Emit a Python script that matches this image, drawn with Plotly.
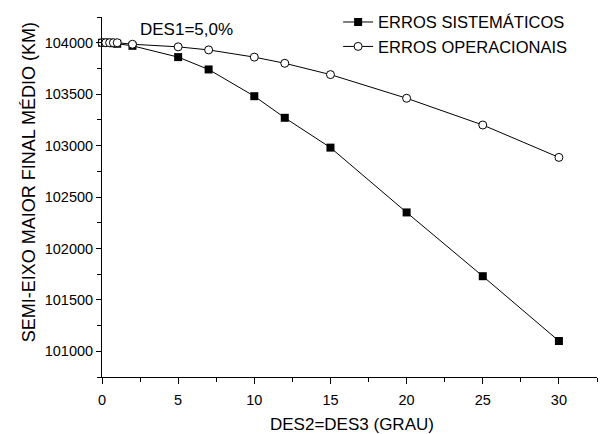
import plotly.graph_objects as go

# Inclination offset (deg) and mean final semi-major axis (km)
des_graus = [0, 0.25, 0.5, 0.75, 1, 2, 5, 7, 10, 12, 15, 20, 25, 30]
erros_sistematicos = [104000, 104000, 104000, 103995, 103990, 103970, 103860, 103740,
                      103480, 103270, 102980, 102350, 101730, 101100]
erros_operacionais = [104000, 104000, 104000, 104000, 104000, 103985, 103960, 103930,
                      103860, 103800, 103690, 103460, 103200, 102885]

FONT = "Liberation Sans, Arial, sans-serif"

fig = go.Figure()
fig.add_trace(go.Scatter(
    x=des_graus, y=erros_sistematicos, mode="lines+markers",
    name="ERROS SISTEMÁTICOS",
    line=dict(color="black", width=1),
    marker=dict(symbol="square", size=8, color="black"),
    cliponaxis=False,
))
fig.add_trace(go.Scatter(
    x=des_graus, y=erros_operacionais, mode="lines+markers",
    name="ERROS OPERACIONAIS",
    line=dict(color="black", width=1),
    marker=dict(symbol="circle", size=8, color="white", line=dict(width=1, color="black")),
    cliponaxis=False,
))

# Fixed eccentricity offset label
fig.add_annotation(
    text="DES1=5,0%", x=0.17, y=0.964, xref="paper", yref="paper",
    xanchor="center", yanchor="middle", showarrow=False,
    font=dict(family=FONT, size=17, color="black"),
)
# Axis titles
fig.add_annotation(
    text="DES2=DES3 (GRAU)", x=0.505, y=-0.133, xref="paper", yref="paper",
    xanchor="center", yanchor="middle", showarrow=False,
    font=dict(family=FONT, size=17, color="black"),
)
fig.add_annotation(
    text="SEMI-EIXO MAIOR FINAL MÉDIO (KM)", x=-0.148, y=0.54, xref="paper", yref="paper",
    xanchor="center", yanchor="middle", showarrow=False, textangle=-90,
    font=dict(family=FONT, size=18, color="black"),
)

fig.update_layout(
    width=609, height=434,
    margin=dict(l=102, r=12, t=17, b=57, autoexpand=False),
    paper_bgcolor="white", plot_bgcolor="white",
    font=dict(family=FONT, size=14.5, color="black"),
    showlegend=True,
    legend=dict(
        x=0.477, y=1.034, xanchor="left", yanchor="top",
        bgcolor="rgba(0,0,0,0)", font=dict(family=FONT, size=16.5),
        tracegroupgap=2, itemwidth=30,
    ),
    xaxis=dict(
        range=[0, 32.5], tickmode="linear", tick0=0, dtick=5,
        showline=True, linecolor="black", linewidth=1,
        ticks="outside", ticklen=6, tickcolor="black",
        showgrid=False, zeroline=False, ticklabelstandoff=4,
        minor=dict(dtick=2.5, tick0=0, ticks="outside", ticklen=4, tickcolor="black", showgrid=False),
    ),
    yaxis=dict(
        range=[100750, 104250], tickmode="linear", tick0=101000, dtick=500,
        showline=True, linecolor="black", linewidth=1,
        ticks="outside", ticklen=5, tickcolor="black",
        showgrid=False, zeroline=False, tickformat="d",
        minor=dict(dtick=250, tick0=100750, ticks="outside", ticklen=4, tickcolor="black", showgrid=False),
    ),
)

fig.write_html("out.html")
